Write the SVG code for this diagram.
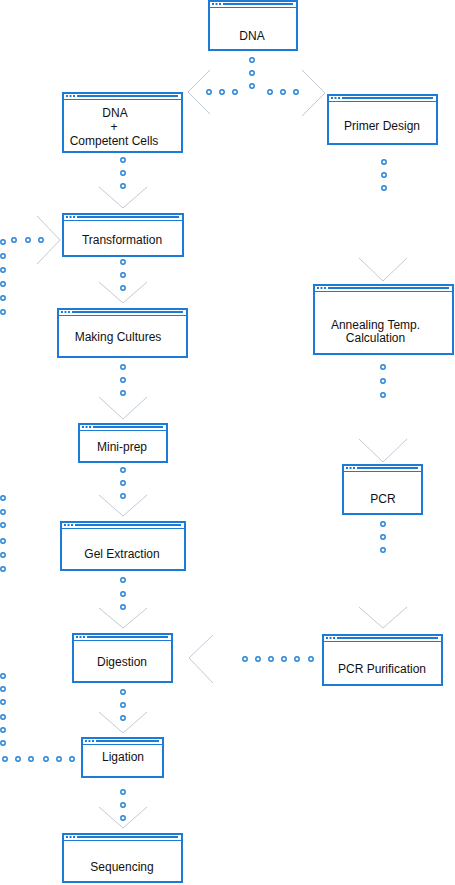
<svg xmlns="http://www.w3.org/2000/svg" width="455" height="885" viewBox="0 0 455 885">
<style>
.b{fill:#fff;stroke:#1c7bd6;stroke-width:2}
.tb{stroke:#1c7bd6;stroke-width:2;fill:none}
.tl{stroke:#1c7bd6;stroke-width:1;fill:none}
.td{fill:#1c7bd6}
.t{font-family:"Liberation Sans",Arial,sans-serif;font-size:12px;fill:#111;text-anchor:middle}
.d{fill:#fff;stroke:#2b86d9;stroke-width:1.5}
.c{fill:none;stroke:#aebccc;stroke-width:0.8}
</style>
<defs>
<circle id="o" r="2.2" class="d"/>
</defs>
<rect width="455" height="885" fill="#fff"/>
<g id="connectors">
<!-- DNA split -->
<use href="#o" x="252" y="60"/><use href="#o" x="252" y="73"/><use href="#o" x="252" y="86"/>
<use href="#o" x="209" y="92"/><use href="#o" x="222" y="92"/><use href="#o" x="235" y="92"/>
<use href="#o" x="270" y="92"/><use href="#o" x="283" y="92"/><use href="#o" x="296" y="92"/>
<path class="c" d="M210 70 L188 92 L210 114"/>
<path class="c" d="M302 70 L325 93 L302 116"/>
<!-- DNA+CC to Transformation -->
<use href="#o" x="123" y="160"/><use href="#o" x="123" y="173"/><use href="#o" x="123" y="186"/>
<path class="c" d="M99 187 L123 208 L147 187"/>
<!-- left into Transformation -->
<use href="#o" x="3" y="312"/><use href="#o" x="3" y="298"/><use href="#o" x="3" y="284"/><use href="#o" x="3" y="270"/><use href="#o" x="3" y="256"/><use href="#o" x="3" y="242"/>
<use href="#o" x="14" y="240"/><use href="#o" x="28" y="240"/><use href="#o" x="41" y="240"/>
<path class="c" d="M37 216 L60 240 L37 264"/>
<!-- Transformation to Making Cultures -->
<use href="#o" x="123" y="262"/><use href="#o" x="123" y="275"/><use href="#o" x="123" y="288"/>
<path class="c" d="M99 282 L123 303 L147 282"/>
<!-- Making Cultures to Mini-prep -->
<use href="#o" x="123" y="367"/><use href="#o" x="123" y="380"/><use href="#o" x="123" y="393"/>
<path class="c" d="M99 397 L123 419 L147 397"/>
<!-- Mini-prep to Gel Extraction -->
<use href="#o" x="123" y="470"/><use href="#o" x="123" y="483"/><use href="#o" x="123" y="496"/>
<path class="c" d="M99 495 L123 516 L147 495"/>
<!-- left edge dots near Gel Extraction -->
<use href="#o" x="3" y="498"/><use href="#o" x="3" y="512"/><use href="#o" x="3" y="525"/>
<use href="#o" x="3" y="541"/><use href="#o" x="3" y="555"/><use href="#o" x="3" y="569"/>
<!-- Gel Extraction to Digestion -->
<use href="#o" x="123" y="580"/><use href="#o" x="123" y="594"/><use href="#o" x="123" y="607"/>
<path class="c" d="M99 608 L123 628 L147 608"/>
<!-- Digestion to Ligation -->
<use href="#o" x="123" y="692"/><use href="#o" x="123" y="705"/><use href="#o" x="123" y="718"/>
<path class="c" d="M99 712 L123 733 L147 712"/>
<!-- left into Ligation -->
<use href="#o" x="3" y="676"/><use href="#o" x="3" y="689"/><use href="#o" x="3" y="702"/>
<use href="#o" x="3" y="717"/><use href="#o" x="3" y="730"/><use href="#o" x="3" y="743"/>
<use href="#o" x="5" y="759"/><use href="#o" x="18" y="759"/><use href="#o" x="31" y="759"/>
<use href="#o" x="46" y="759"/><use href="#o" x="59" y="759"/><use href="#o" x="72" y="759"/>
<!-- Ligation to Sequencing -->
<use href="#o" x="123" y="792"/><use href="#o" x="123" y="805"/><use href="#o" x="123" y="818"/>
<path class="c" d="M99 807 L123 828 L147 807"/>
<!-- Primer Design to Annealing -->
<use href="#o" x="384" y="162"/><use href="#o" x="384" y="175"/><use href="#o" x="384" y="188"/>
<path class="c" d="M359 258 L383 281 L407 258"/>
<!-- Annealing to PCR -->
<use href="#o" x="383" y="367"/><use href="#o" x="383" y="381"/><use href="#o" x="383" y="395"/>
<path class="c" d="M359 439 L383 462 L407 439"/>
<!-- PCR to PCR Purification -->
<use href="#o" x="383" y="524"/><use href="#o" x="383" y="537"/><use href="#o" x="383" y="550"/>
<path class="c" d="M359 607 L383 628 L407 607"/>
<!-- PCR Purification to Digestion -->
<use href="#o" x="245" y="659"/><use href="#o" x="258" y="659"/><use href="#o" x="271" y="659"/>
<use href="#o" x="284" y="659"/><use href="#o" x="297" y="659"/><use href="#o" x="311" y="659"/>
<path class="c" d="M213 635 L189 658 L213 683"/>
</g>
<g id="n-dna">
<rect class="b" x="209" y="1" width="88" height="49"/>
<rect class="td" x="212" y="3" width="2" height="2"/><rect class="td" x="215.5" y="3" width="2" height="2"/><rect class="td" x="219" y="3" width="2" height="2"/>
<path class="tb" d="M223 4H293"/><path class="tl" d="M209 7.5H297"/>
<text class="t" x="252" y="40">DNA</text>
</g>
<g id="n-dnacc">
<rect class="b" x="63" y="93" width="119" height="59"/>
<rect class="td" x="66" y="95" width="2" height="2"/><rect class="td" x="69.5" y="95" width="2" height="2"/><rect class="td" x="73" y="95" width="2" height="2"/>
<path class="tb" d="M77 96H178"/><path class="tl" d="M63 99.5H182"/>
<text class="t" x="115" y="117">DNA</text>
<text class="t" x="114" y="131">+</text>
<text class="t" x="114" y="145">Competent Cells</text>
</g>
<g id="n-primer">
<rect class="b" x="328" y="95" width="109" height="49"/>
<rect class="td" x="331" y="97" width="2" height="2"/><rect class="td" x="334.5" y="97" width="2" height="2"/><rect class="td" x="338" y="97" width="2" height="2"/>
<path class="tb" d="M342 98H433"/><path class="tl" d="M328 101.5H437"/>
<text class="t" x="382" y="130">Primer Design</text>
</g>
<g id="n-transformation">
<rect class="b" x="63" y="214" width="120" height="42"/>
<rect class="td" x="66" y="216" width="2" height="2"/><rect class="td" x="69.5" y="216" width="2" height="2"/><rect class="td" x="73" y="216" width="2" height="2"/>
<path class="tb" d="M77 217H179"/><path class="tl" d="M63 220.5H183"/>
<text class="t" x="122" y="244">Transformation</text>
</g>
<g id="n-annealing">
<rect class="b" x="314" y="285" width="139" height="69"/>
<rect class="td" x="317" y="287" width="2" height="2"/><rect class="td" x="320.5" y="287" width="2" height="2"/><rect class="td" x="324" y="287" width="2" height="2"/>
<path class="tb" d="M328 288H449"/><path class="tl" d="M314 291.5H453"/>
<text class="t" x="375.5" y="329">Annealing Temp.</text>
<text class="t" x="375.5" y="342">Calculation</text>
</g>
<g id="n-cultures">
<rect class="b" x="58" y="309" width="129" height="48"/>
<rect class="td" x="61" y="311" width="2" height="2"/><rect class="td" x="64.5" y="311" width="2" height="2"/><rect class="td" x="68" y="311" width="2" height="2"/>
<path class="tb" d="M72 312H183"/><path class="tl" d="M58 315.5H187"/>
<text class="t" x="118" y="341">Making Cultures</text>
</g>
<g id="n-miniprep">
<rect class="b" x="79" y="424" width="88" height="38"/>
<rect class="td" x="82" y="426" width="2" height="2"/><rect class="td" x="85.5" y="426" width="2" height="2"/><rect class="td" x="89" y="426" width="2" height="2"/>
<path class="tb" d="M93 427H163"/><path class="tl" d="M79 430.5H167"/>
<text class="t" x="122" y="451">Mini-prep</text>
</g>
<g id="n-pcr">
<rect class="b" x="343" y="465" width="79" height="49"/>
<rect class="td" x="346" y="467" width="2" height="2"/><rect class="td" x="349.5" y="467" width="2" height="2"/><rect class="td" x="353" y="467" width="2" height="2"/>
<path class="tb" d="M357 468H418"/><path class="tl" d="M343 471.5H422"/>
<text class="t" x="383" y="503">PCR</text>
</g>
<g id="n-gel">
<rect class="b" x="61" y="522" width="124" height="48"/>
<rect class="td" x="64" y="524" width="2" height="2"/><rect class="td" x="67.5" y="524" width="2" height="2"/><rect class="td" x="71" y="524" width="2" height="2"/>
<path class="tb" d="M75 525H181"/><path class="tl" d="M61 528.5H185"/>
<text class="t" x="122" y="558">Gel Extraction</text>
</g>
<g id="n-digestion">
<rect class="b" x="73" y="634" width="99" height="48"/>
<rect class="td" x="76" y="636" width="2" height="2"/><rect class="td" x="79.5" y="636" width="2" height="2"/><rect class="td" x="83" y="636" width="2" height="2"/>
<path class="tb" d="M87 637H168"/><path class="tl" d="M73 640.5H172"/>
<text class="t" x="122" y="666">Digestion</text>
</g>
<g id="n-pcrpur">
<rect class="b" x="323" y="635" width="119" height="50"/>
<rect class="td" x="326" y="637" width="2" height="2"/><rect class="td" x="329.5" y="637" width="2" height="2"/><rect class="td" x="333" y="637" width="2" height="2"/>
<path class="tb" d="M337 638H438"/><path class="tl" d="M323 641.5H442"/>
<text class="t" x="382" y="673">PCR Purification</text>
</g>
<g id="n-ligation">
<rect class="b" x="82" y="738" width="81" height="39"/>
<rect class="td" x="85" y="740" width="2" height="2"/><rect class="td" x="88.5" y="740" width="2" height="2"/><rect class="td" x="92" y="740" width="2" height="2"/>
<path class="tb" d="M96 741H159"/><path class="tl" d="M82 744.5H163"/>
<text class="t" x="123" y="761">Ligation</text>
</g>
<g id="n-sequencing">
<rect class="b" x="63" y="834" width="119" height="48"/>
<rect class="td" x="66" y="836" width="2" height="2"/><rect class="td" x="69.5" y="836" width="2" height="2"/><rect class="td" x="73" y="836" width="2" height="2"/>
<path class="tb" d="M77 837H178"/><path class="tl" d="M63 840.5H182"/>
<text class="t" x="122" y="871">Sequencing</text>
</g>
</svg>
